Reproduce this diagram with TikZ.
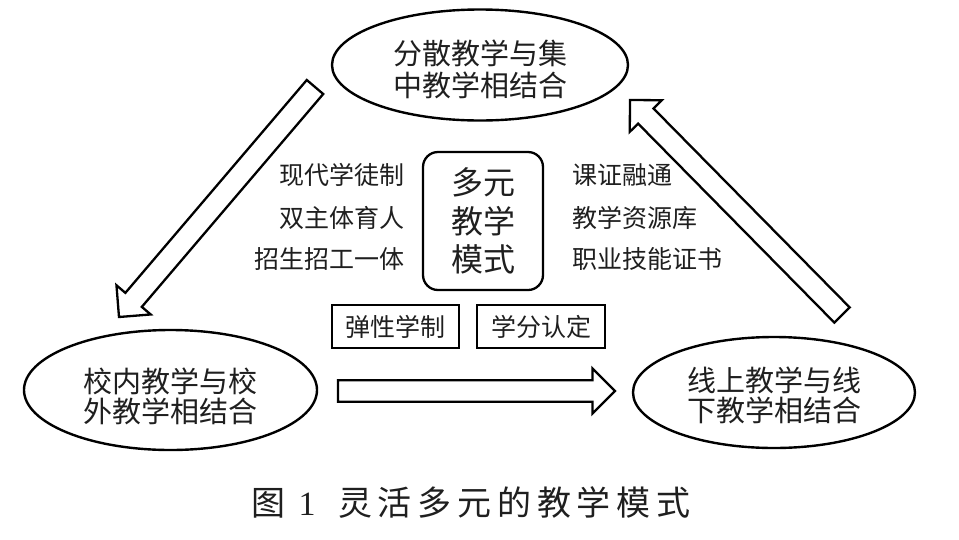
\documentclass[tikz,border=0pt]{standalone}
\usepackage{fontspec}
\setmainfont{Liberation Serif}
\newfontfamily\cjk{Noto Sans CJK SC}
\usetikzlibrary{calc,shapes.geometric}
\newcommand\blockarrow[3]{%
  \coordinate (#3b) at ($(#2)!22.5pt!(#1)$);
  \draw[blk] ($(#1)!10.8pt!90:(#2)$) -- ($(#3b)!10.8pt!90:(#2)$) -- ($(#3b)!22.5pt!90:(#2)$)
    -- (#2) -- ($(#3b)!22.5pt!-90:(#2)$) -- ($(#3b)!10.8pt!-90:(#2)$) -- ($(#1)!10.8pt!-90:(#2)$) -- cycle;}
\begin{document}
\begin{tikzpicture}[x=1pt,y=-1pt,
  txt/.style={text=black!88, inner sep=0pt},
  ell/.style={ellipse, draw, line width=2.4pt, inner sep=0pt, align=center, text=black!88,
    font=\cjk\fontsize{29}{31}\selectfont},
  lst/.style={txt, font=\cjk\fontsize{25}{28}\selectfont},
  boxed/.style={draw, line width=1.6pt, minimum width=127pt, minimum height=43pt, inner sep=0pt,
    text=black!88, font=\cjk\fontsize{25}{28}\selectfont},
  blk/.style={draw, line width=2.3pt, line join=miter, fill=white}]
\useasboundingbox (0,0) rectangle (959,539);
\fill[white] (0,0) rectangle (959,539);
% ellipses
\node[ell, minimum width=296pt, minimum height=111pt, font=\cjk\fontsize{29}{32}\selectfont] (top) at (480,65)
  {\rule{0pt}{33.5pt}分散教学与集\\中教学相结合};
\node[ell, minimum width=293pt, minimum height=120pt, font=\cjk\fontsize{29}{29.5}\selectfont] (left) at (170.5,390)
  {\rule{0pt}{37pt}校内教学与校\\外教学相结合};
\node[ell, minimum width=282pt, minimum height=111pt, font=\cjk\fontsize{29}{30}\selectfont] (right) at (774,392.5)
  {\rule{0pt}{30.5pt}线上教学与线\\下教学相结合};
% centre box
\node[draw, line width=2.3pt, rounded corners=15pt, minimum width=120pt, minimum height=138pt,
  inner sep=0pt, align=center, text=black!88, font=\cjk\fontsize{32}{38.5}\selectfont] (core) at (483,221) {多元\\教学\\模式};
% lists
\node[lst, anchor=east] (l1) at (405,175) {现代学徒制};
\node[lst, anchor=east] (l2) at (405,218) {双主体育人};
\node[lst, anchor=east] (l3) at (405,259) {招生招工一体};
\node[lst, anchor=west] (r1) at (572,175) {课证融通};
\node[lst, anchor=west] (r2) at (572,218) {教学资源库};
\node[lst, anchor=west] (r3) at (572,259) {职业技能证书};
% small boxes
\node[boxed] (b1) at (395.5,326.5) {弹性学制};
\node[boxed, minimum width=128pt] (b2) at (541,326.5) {学分认定};
% block arrows
\coordinate (a1s) at (315,87);  \coordinate (a1e) at (119,317);
\coordinate (a2s) at (338,391); \coordinate (a2e) at (615,391);
\coordinate (a3s) at (842,315); \coordinate (a3e) at (630,100);
\blockarrow{a1s}{a1e}{a1}
\blockarrow{a2s}{a2e}{a2}
\blockarrow{a3s}{a3e}{a3}
% caption
\node[txt, anchor=west, font=\fontsize{34}{36}\selectfont] (cap) at (248.5,503)
  {\makebox[39pt]{\cjk 图}\makebox[39pt]{1}\hspace{8.6pt}\cjk\makebox[39.8pt]{灵}\makebox[39.8pt]{活}\makebox[39.8pt]{多}\makebox[39.8pt]{元}\makebox[39.8pt]{的}\makebox[39.8pt]{教}\makebox[39.8pt]{学}\makebox[39.8pt]{模}\makebox[39.8pt]{式}};
\end{tikzpicture}
\end{document}
